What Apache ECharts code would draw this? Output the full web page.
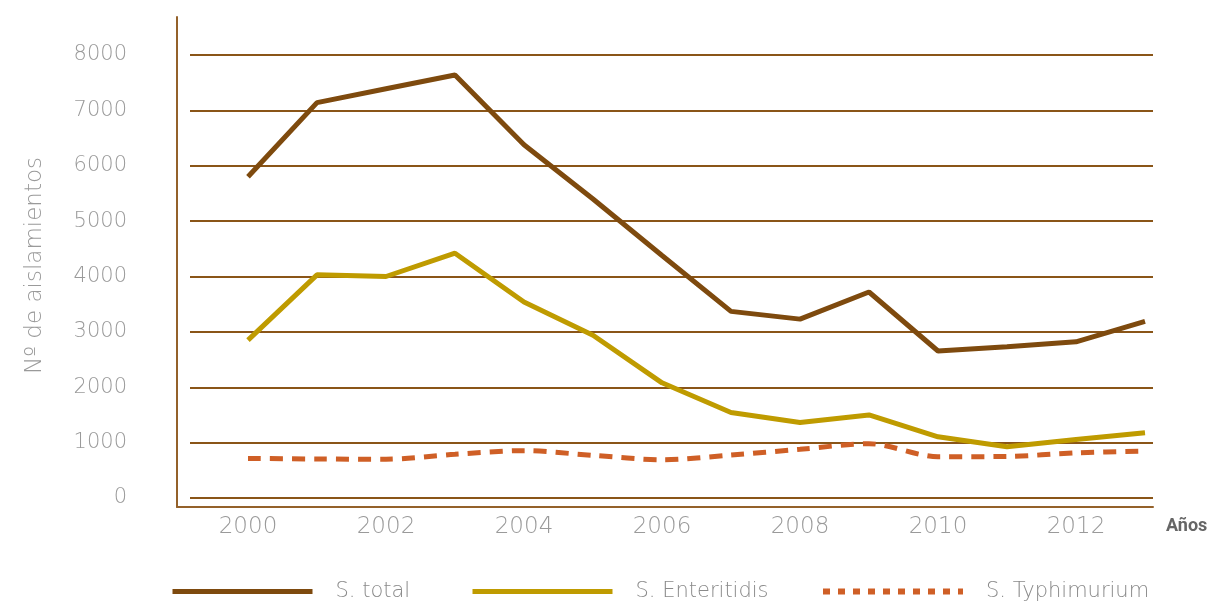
<!DOCTYPE html>
<html>
<head>
<meta charset="utf-8">
<script src="https://cdn.jsdelivr.net/npm/echarts@6/dist/echarts.min.js"></script>
<style>
  html, body { margin: 0; padding: 0; background: #fff; }
  #chart { width: 1217px; height: 602px; }
</style>
</head>
<body>
<div id="chart"></div>
<script>
const years = [2000, 2001, 2002, 2003, 2004, 2005, 2006, 2007, 2008, 2009, 2010, 2011, 2012, 2013]
const yearLabels = [2000, 2002, 2004, 2006, 2008, 2010, 2012]
const sTotal = [5800, 7140, 7390, 7640, 6380, 5400, 4380, 3370, 3230, 3720, 2655, 2730, 2820, 3190]
const sEnteritidis = [2850, 4030, 4000, 4420, 3540, 2940, 2080, 1545, 1365, 1500, 1105, 925, 1055, 1180]
const sTyphimurium = [715, 705, 700, 790, 855, 770, 690, 775, 880, 980, 745, 750, 815, 845]

// layout (pixels)
const pxPerYear = 69
const firstX = 248
const plotLeft = 190   // grid lines start
const frameLeft = 177  // axis line
const plotRight = 1153

const toPairs = arr => arr.map((v, i) => [years[i], v])
const xMinFor = left => years[0] - (firstX - left) / pxPerYear
const xMax = years[0] + (plotRight - firstX) / pxPerYear

const brown = '#7e4a0e'
const olive = '#bf9b00'
const orange = '#cf5f26'
const gridColor = '#8a5518'
const labelFont = '"DejaVu Sans ExtraLight", "DejaVu Sans"'

const chart = echarts.init(document.getElementById('chart'))

const legendText = { color: '#8a8a8a', fontSize: 21, fontFamily: labelFont, fontWeight: 200, padding: [0, 0, 0, 18] }
function makeLegend(name, left, lineStyle) {
  return {
    left: left, top: 581, padding: 0, itemWidth: 140, itemHeight: 24,
    data: [{ name: name, lineStyle: lineStyle, itemStyle: { opacity: 0 } }],
    textStyle: legendText
  }
}

const option = {
  animation: false,
  backgroundColor: '#fff',
  legend: [
    makeLegend('S. total', 170, { color: brown, width: 5 }),
    makeLegend('S. Enteritidis', 470, { color: olive, width: 5 }),
    makeLegend('S. Typhimurium', 820, { color: orange, width: 6, type: [7, 8] })
  ],
  grid: [
    { left: plotLeft, right: 1217 - plotRight, top: 55, bottom: 602 - 498 },
    { left: frameLeft, right: 1217 - plotRight, top: 17, bottom: 602 - 507 }
  ],
  xAxis: [
    {
      gridIndex: 0, type: 'value', min: xMinFor(plotLeft), max: xMax,
      axisLine: { show: false }, axisTick: { show: false },
      axisLabel: { show: false }, splitLine: { show: false }
    },
    {
      gridIndex: 1, type: 'value', min: xMinFor(frameLeft), max: xMax,
      axisLine: { show: true, lineStyle: { color: '#94612a', width: 2 } },
      axisTick: { show: false },
      splitLine: { show: false },
      axisLabel: {
        customValues: yearLabels,
        formatter: v => String(v),
        color: '#9a9a9a', fontSize: 23, fontFamily: labelFont, fontWeight: 200, margin: 9
      },
      name: 'Años', nameLocation: 'end', nameGap: 13,
      nameTextStyle: { color: '#666', fontSize: 18, fontWeight: 'bold', fontFamily: 'Roboto', verticalAlign: 'top', padding: [10, 0, 0, 0] }
    }
  ],
  yAxis: [
    {
      gridIndex: 0, type: 'value', min: 0, max: 8000, interval: 1000,
      axisLine: { show: false }, axisTick: { show: false },
      axisLabel: { formatter: v => String(v), color: '#9a9a9a', fontSize: 21, fontFamily: labelFont, fontWeight: 200, margin: 63 },
      splitLine: { show: true, lineStyle: { color: gridColor, width: 2 } },
      name: 'Nº de aislamientos', nameLocation: 'middle', nameGap: 143,
      nameTextStyle: { color: '#9a9a9a', fontSize: 23, fontFamily: labelFont, fontWeight: 200, padding: [0, 0, 0, 22] }
    },
    {
      gridIndex: 1, type: 'value', min: 0, max: 1,
      axisLine: { show: true, lineStyle: { color: '#94612a', width: 2 } },
      axisTick: { show: false }, axisLabel: { show: false }, splitLine: { show: false }
    }
  ],
  series: [
    {
      name: 'S. total', type: 'line', xAxisIndex: 0, yAxisIndex: 0,
      data: toPairs(sTotal), symbol: 'none',
      lineStyle: { color: brown, width: 5 }, itemStyle: { color: brown }
    },
    {
      name: 'S. Enteritidis', type: 'line', xAxisIndex: 0, yAxisIndex: 0,
      data: toPairs(sEnteritidis), symbol: 'none',
      lineStyle: { color: olive, width: 5 }, itemStyle: { color: olive }
    },
    {
      name: 'S. Typhimurium', type: 'line', xAxisIndex: 0, yAxisIndex: 0,
      data: toPairs(sTyphimurium), symbol: 'none', smooth: 0.3,
      lineStyle: { color: orange, width: 5, type: [13, 9] }, itemStyle: { color: orange }
    }
  ]
}

chart.setOption(option)
</script>
</body>
</html>
